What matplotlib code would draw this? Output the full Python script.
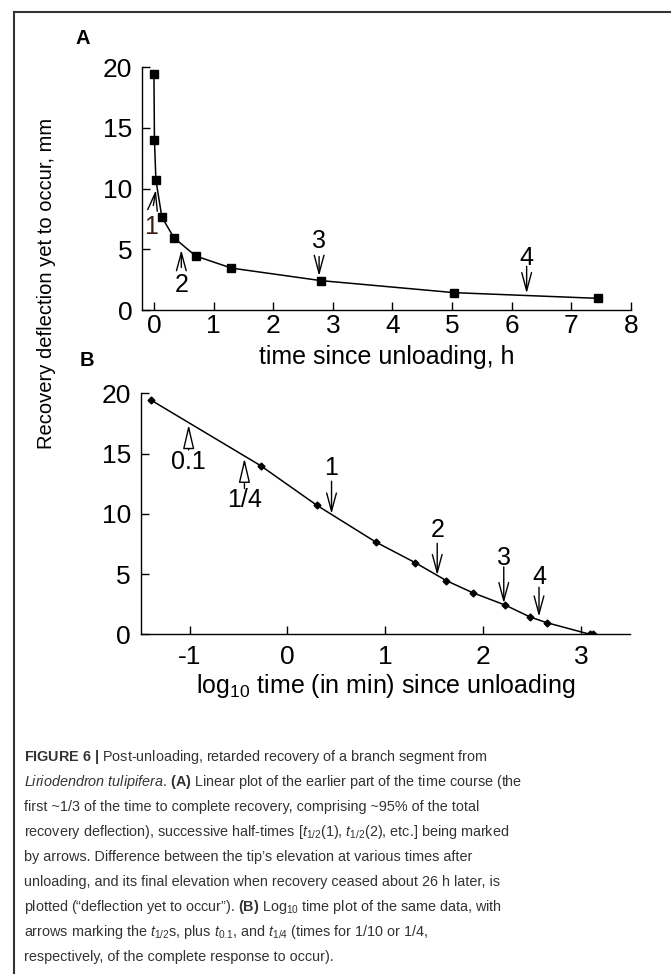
import numpy as np
import matplotlib
matplotlib.use('Agg')
import matplotlib.pyplot as plt
from matplotlib.lines import Line2D

plt.rcParams['font.family'] = ['Liberation Sans', 'DejaVu Sans']
plt.rcParams['axes.unicode_minus'] = False
plt.rcParams['mathtext.fontset'] = 'custom'
plt.rcParams['mathtext.rm'] = 'Liberation Sans'
plt.rcParams['mathtext.it'] = 'Liberation Sans:italic'
plt.rcParams['mathtext.bf'] = 'Liberation Sans:bold'

# recovery deflection yet to occur (mm) vs time since unloading (min)
t_min = [0.04, 0.53, 2.0, 8.0, 20.1, 42.0, 78.0, 168.0, 302.0, 447.0, 1230.0, 1320.0]
defl = [19.45, 14.0, 10.7, 7.65, 5.95, 4.45, 3.45, 2.42, 1.43, 0.96, 0.0, 0.0]
n_lin = 10  # points shown on the linear (hours) plot

# half-time arrows: (x, tip y, tail y, label y, label)
arrows_a = [(6.25, 1.37, 3.6, 4.3, '4'),
            (2.77, 2.8, 4.4, 5.7, '3'),
            (0.46, 4.94, 3.5, 2.05, '2')]
arrows_b_down = [(0.45, 10.0, 12.7, 13.8, '1'),
                 (1.53, 4.9, 7.55, 8.66, '2'),
                 (2.21, 2.57, 5.6, 6.3, '3'),
                 (2.57, 1.46, 3.9, 4.78, '4')]
arrows_b_up = [(-1.01, 17.4, 15.3, 14.3, '0.1'),
               (-0.44, 14.6, 12.1, 11.15, '1/4')]

t_h = np.array(t_min[:n_lin]) / 60.0
t_log = np.log10(np.array(t_min))

fig = plt.figure(figsize=(6.71, 9.74), dpi=100)

def style_axes(ax):
    for s in ['top', 'right']:
        ax.spines[s].set_visible(False)
    for s in ['left', 'bottom']:
        ax.spines[s].set_linewidth(1.0)
    ax.tick_params(direction='in', length=6, width=1, labelsize=19)
    ax.set_ylim(0, 20)
    ax.set_yticks([0, 5, 10, 15, 20])

down = dict(arrowstyle='->,head_length=1.3,head_width=0.35', mutation_scale=10,
            lw=1.0, color='k', shrinkA=0, shrinkB=0)
hollow = dict(arrowstyle='-|>,head_length=1.5,head_width=0.35', mutation_scale=10,
              lw=1.0, fc='white', ec='k', shrinkA=0, shrinkB=0)

# panel A: linear time axis
axa = fig.add_axes([0.2116, 0.6817, 0.7288, 0.2495])
style_axes(axa)
axa.plot(t_h, defl[:n_lin], '-', color='k', lw=1.1, marker='s', ms=5.5)
axa.set_xlim(-0.2, 8)
axa.set_xticks(range(0, 9))
axa.tick_params(axis='x', pad=3)
axa.tick_params(axis='y', pad=7)
axa.set_xlabel('time since unloading, h', fontsize=18, labelpad=5)

for x, tip, tail, ly, lab in arrows_a:
    axa.annotate('', xy=(x, tip), xytext=(x, tail), arrowprops=down)
    axa.text(x, ly, lab, ha='center', va='center', fontsize=18)
# first half-time sits right on the steep part
axa.annotate('', xy=(0.033, 9.88), xytext=(-0.01, 8.6), arrowprops=down)
axa.text(-0.04, 6.8, '1', ha='center', va='center', fontsize=18, color='#3a1e14')

# panel B: log time axis
axb = fig.add_axes([0.2097, 0.3488, 0.7292, 0.2474])
style_axes(axb)
axb.plot(t_log, defl, '-', color='k', lw=1.1, marker='D', ms=3.5)
axb.set_xlim(-1.5, 3.5)
axb.set_xticks([-1, 0, 1, 2, 3])
axb.tick_params(axis='x', pad=8)
axb.tick_params(axis='y', pad=7)
axb.set_xlabel(r'log$_{\mathregular{10}}$ time (in min) since unloading', fontsize=18, labelpad=2)

for x, tip, tail, ly, lab in arrows_b_down:
    axb.annotate('', xy=(x, tip), xytext=(x, tail), arrowprops=down)
    axb.text(x, ly, lab, ha='center', va='center', fontsize=18)
for x, tip, tail, ly, lab in arrows_b_up:
    axb.annotate('', xy=(x, tip), xytext=(x, tail), arrowprops=hollow)
    axb.text(x, ly, lab, ha='center', va='center', fontsize=18)

fig.text(83 / 671, 1 - 38 / 974, 'A', fontsize=14.5, fontweight='bold', ha='center', va='center')
fig.text(87 / 671, 1 - 361 / 974, 'B', fontsize=14.5, fontweight='bold', ha='center', va='center')
fig.text(47 / 671, 1 - 283 / 974, 'Recovery deflection yet to occur, mm', fontsize=14.5,
         rotation=90, ha='center', va='center')

# frame lines
fig.add_artist(Line2D([14 / 671, 1.0], [1 - 12 / 974, 1 - 12 / 974], color='#333333', lw=1.5))
fig.add_artist(Line2D([14 / 671, 14 / 671], [1 - 12 / 974, 0.0], color='#333333', lw=1.5))

caption = [
    r'$\mathbf{FIGURE\ 6\ |}$ Post-unloading, retarded recovery of a branch segment from',
    r'$\mathit{Liriodendron\ tulipifera}$. $\mathbf{(A)}$ Linear plot of the earlier part of the time course (the',
    'first ~1/3 of the time to complete recovery, comprising ~95% of the total',
    r'recovery deflection), successive half-times [$t_{\mathrm{1/2}}$(1), $t_{\mathrm{1/2}}$(2), etc.] being marked',
    'by arrows. Difference between the tip’s elevation at various times after',
    'unloading, and its final elevation when recovery ceased about 26 h later, is',
    r'plotted (“deflection yet to occur”). $\mathbf{(B)}$ Log$_{\mathrm{10}}$ time plot of the same data, with',
    r'arrows marking the $t_{\mathrm{1/2}}$s, plus $t_{\mathrm{0.1}}$, and $t_{\mathrm{1/4}}$ (times for 1/10 or 1/4,',
    'respectively, of the complete response to occur).',
]
for i, line in enumerate(caption):
    y = 757 + 25 * i
    fig.text(24 / 671, 1 - y / 974, line, fontsize=10.4, color='#333333', ha='left', va='center')

fig.savefig('out.png', dpi=100)
